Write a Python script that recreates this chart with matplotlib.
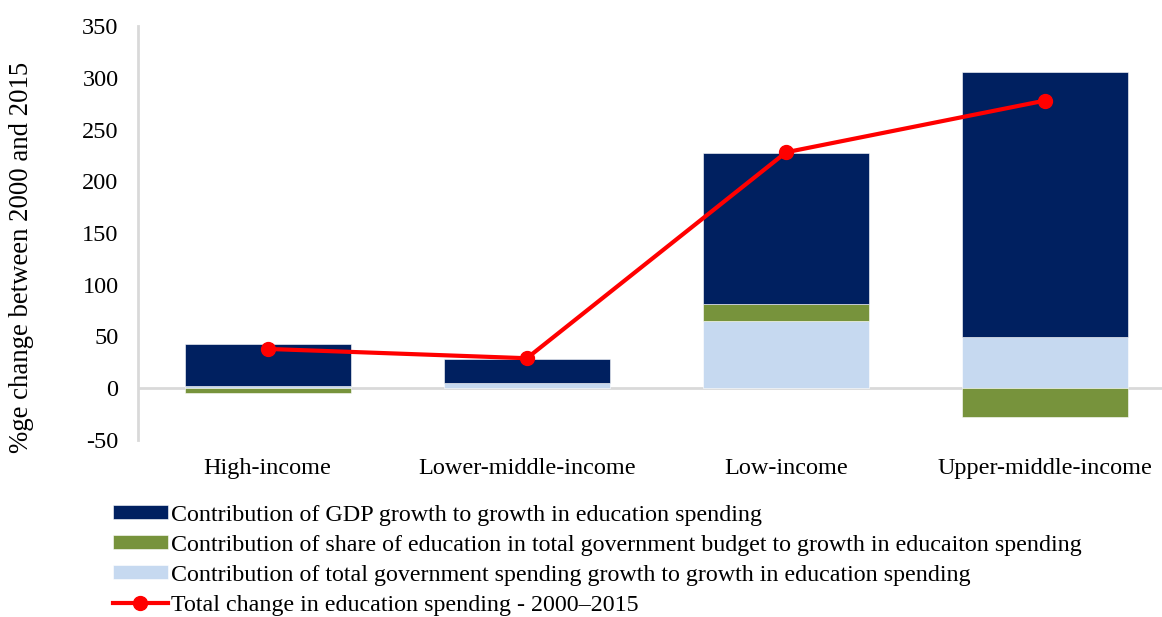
import numpy as np
import matplotlib
matplotlib.use("Agg")
from matplotlib import pyplot as plt

plt.rcParams['font.family'] = ['Liberation Serif', 'DejaVu Serif']
plt.rcParams['axes.unicode_minus'] = False

# ====
# Data: contributions to growth in education spending, 2000-2015
groups = ["High-income", "Lower-middle-income", "Low-income", "Upper-middle-income"]
gdp_contrib = [41, 23, 146, 256]
share_contrib = [-5, 0, 16, -28]
govspend_contrib = [2, 5.5, 65, 50]
total_change = [38, 29, 228, 278]

labels = [
    "Contribution of GDP growth to growth in education spending",
    "Contribution of share of education in total government budget to growth in educaiton spending",
    "Contribution of total government spending growth to growth in education spending",
]
line_label = "Total change in education spending - 2000\u20132015"

colors = {"gdp": "#002060", "share": "#77933C", "gov": "#C6D9F0"}

fig = plt.figure(figsize=(11.62, 6.17), dpi=100)
ax = fig.add_axes([138 / 1162, 1 - 440 / 617, 1024 / 1162, 414 / 617])

x = np.arange(len(groups))
width = 0.64

# stack positives upwards and negatives downwards, light blue first
pos_bottom = np.zeros(len(groups))
neg_bottom = np.zeros(len(groups))
handles = {}
for key, vals in [("gov", govspend_contrib), ("share", share_contrib), ("gdp", gdp_contrib)]:
    vals = np.array(vals, dtype=float)
    bottom = np.where(vals >= 0, pos_bottom, neg_bottom)
    handles[key] = ax.bar(x, vals, width, bottom=bottom, color=colors[key],
                          edgecolor="#ffffff", linewidth=0.4, zorder=2)
    pos_bottom += np.where(vals >= 0, vals, 0)
    neg_bottom += np.where(vals < 0, vals, 0)

line, = ax.plot(x, total_change, color="#FF0000", linewidth=3, marker="o",
                markersize=10, zorder=4)

ax.axhline(0, color="#d9d9d9", linewidth=2, zorder=1)

ax.set_xlim(-0.5, 3.45)
ax.set_ylim(-50, 350)
ax.set_yticks(np.arange(-50, 351, 50))
ax.set_xticks(x)
ax.set_xticklabels(groups)
ax.tick_params(axis="both", length=0, labelsize=17.5)
ax.tick_params(axis="y", pad=14)
ax.tick_params(axis="x", pad=13)

for side in ["top", "right", "bottom"]:
    ax.spines[side].set_visible(False)
ax.spines["left"].set_color("#d9d9d9")
ax.spines["left"].set_linewidth(2)

fig.text(22 / 1162, 1 - 257 / 617, "%ge change between 2000 and 2015",
         rotation=90, ha="center", va="center", fontsize=19.3)

fig.legend([handles["gdp"], handles["share"], handles["gov"], line],
           labels + [line_label],
           loc="upper left", bbox_to_anchor=(103 / 1162, 1 - 495 / 617),
           frameon=False, fontsize=17.3, handlelength=2.3, handleheight=0.5,
           handletextpad=0.15, labelspacing=0.38, borderaxespad=0)

fig.savefig("out.png", dpi=100)
